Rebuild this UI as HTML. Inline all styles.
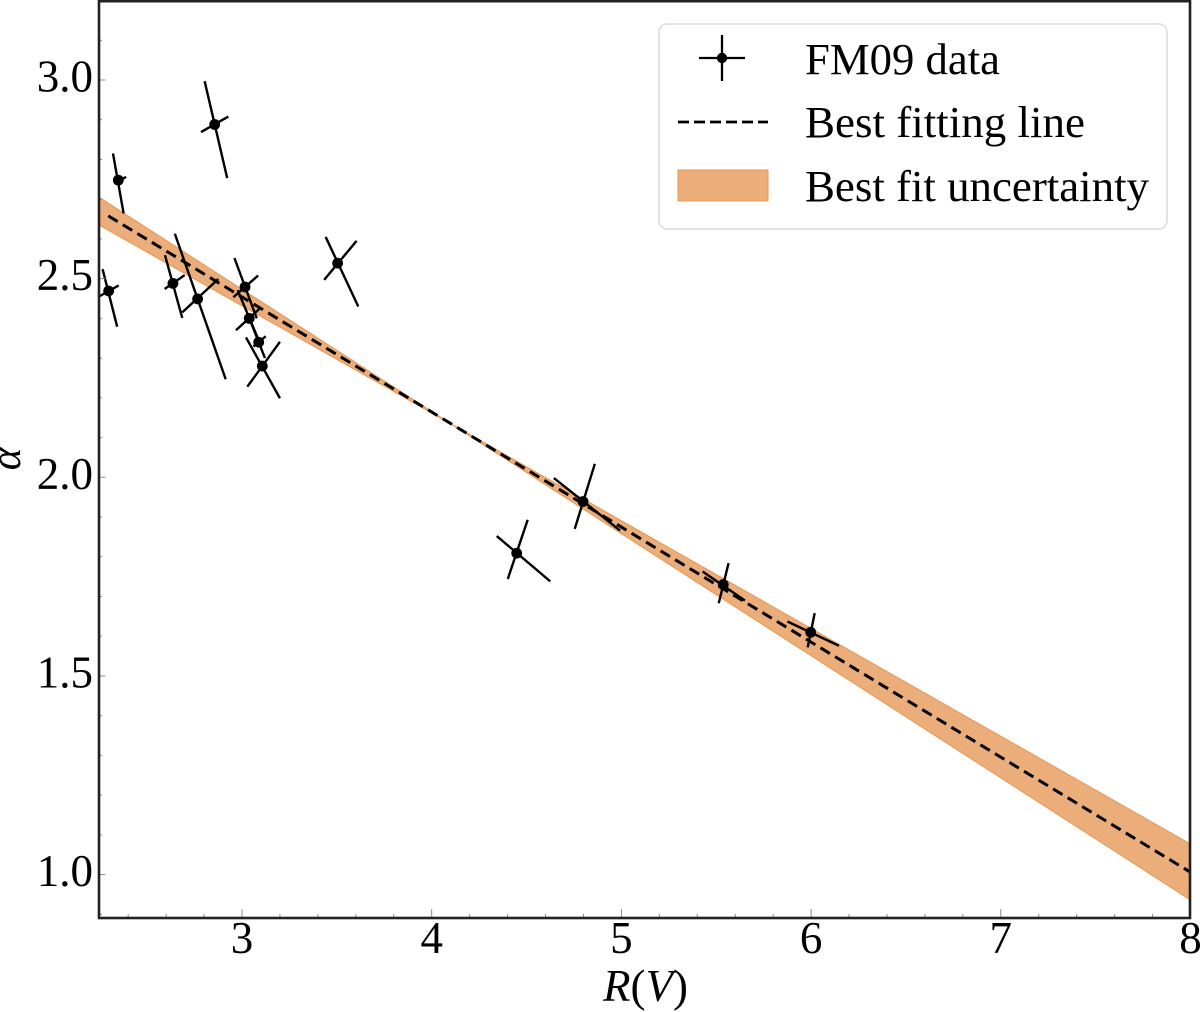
<!DOCTYPE html>
<html>
<head>
<meta charset="utf-8">
<title>R(V) vs alpha</title>
<style>
html,body{margin:0;padding:0;background:#fff;}
svg{display:block;}
text{font-family:"Liberation Serif",serif;fill:#000;}
</style>
</head>
<body>
<svg id="chart" xmlns="http://www.w3.org/2000/svg" width="1200" height="1012" viewBox="0 0 1200 1012">
<g id="band-layer"></g>
<g id="line-layer"></g>
<g id="points-layer"></g>
<g id="ticks-layer"></g>
<rect x="99" y="1.2" width="1091" height="916.8" fill="none" stroke="#222" stroke-width="2.6"/>
<text x="603" y="1001" font-size="45"><tspan font-style="italic">R</tspan>(<tspan font-style="italic">V</tspan>)</text>
<text x="20" y="459" font-size="43" font-style="italic" text-anchor="middle" transform="rotate(-90 20 459)">α</text>
<g>
<rect x="659" y="24" width="508" height="205" rx="8" fill="#fff" fill-opacity="0.9" stroke="#dcdcdc" stroke-width="1.6"/>
<line x1="699" y1="58" x2="745" y2="58" stroke="#000" stroke-width="2.3"/>
<line x1="722" y1="35" x2="722" y2="81" stroke="#000" stroke-width="2.3"/>
<circle cx="722" cy="58" r="5.2" fill="#000"/>
<text x="805" y="74" font-size="44.7" textLength="195" lengthAdjust="spacingAndGlyphs">FM09 data</text>
<line x1="678" y1="122" x2="768" y2="122" stroke="#000" stroke-width="2.8" stroke-dasharray="11 5"/>
<text x="805" y="137" font-size="44.7" textLength="280" lengthAdjust="spacingAndGlyphs">Best fitting line</text>
<rect x="678" y="170" width="90" height="31" fill="#ebae7b" stroke="#e8964f" stroke-width="1"/>
<text x="805" y="201" font-size="44.7" textLength="344" lengthAdjust="spacingAndGlyphs">Best fit uncertainty</text>
</g>
</svg>
<script>
// Data (all in axis units)
const xTickValues = [3, 4, 5, 6, 7, 8];
const xTickLabels = ["3", "4", "5", "6", "7", "8"];
const yTickValues = [1.0, 1.5, 2.0, 2.5, 3.0];
const yTickLabels = ["1.0", "1.5", "2.0", "2.5", "3.0"];

const rv    = [2.297, 2.348, 2.856, 2.636, 2.766, 3.016, 3.038, 3.088, 3.107, 3.504, 4.448, 4.798, 5.537, 5.998];
const alpha = [2.469, 2.748, 2.888, 2.488, 2.449, 2.479, 2.400, 2.340, 2.280, 2.539, 1.809, 1.939, 1.730, 1.610];

// Tilted error arms: offsets of each arm tip from its point
const yArmTopRv    = [-0.032,-0.028,-0.053,-0.042,-0.120,-0.056,-0.061,-0.050,-0.086,-0.063, 0.058, 0.062, 0.028, 0.021];
const yArmTopAlpha = [ 0.055, 0.067, 0.109, 0.071, 0.164, 0.073, 0.071, 0.061, 0.072, 0.066, 0.084, 0.095, 0.054, 0.048];
const yArmBotRv    = [ 0.045, 0.028, 0.066, 0.049, 0.148, 0.062, 0.056, 0.033, 0.093, 0.109,-0.047,-0.044,-0.024,-0.016];
const yArmBotAlpha = [-0.090,-0.084,-0.135,-0.087,-0.202,-0.079,-0.062,-0.040,-0.081,-0.109,-0.065,-0.069,-0.047,-0.038];
const xArmLeftRv     = [-0.047,-0.023,-0.072,-0.044,-0.081,-0.062,-0.070,-0.028,-0.079,-0.071,-0.105,-0.154,-0.109,-0.123];
const xArmLeftAlpha  = [-0.013,-0.008,-0.019,-0.014,-0.034,-0.026,-0.030,-0.011,-0.052,-0.042, 0.043, 0.059, 0.033, 0.027];
const xArmRightRv    = [ 0.053, 0.041, 0.072, 0.062, 0.109, 0.069, 0.056, 0.037, 0.093, 0.100, 0.177, 0.195, 0.114, 0.149];
const xArmRightAlpha = [ 0.014, 0.008, 0.020, 0.021, 0.050, 0.029, 0.025, 0.015, 0.061, 0.056,-0.071,-0.073,-0.040,-0.034];

const lineRv = [2.295, 8];
const lineAlpha = [2.658, 1.006];

const bandRv = [2.246, 4.1, 8];
const bandUpper = [2.705, 2.135, 1.077];
const bandLower = [2.635, 2.135, 0.936];

// Axis functions
const PLOT_LEFT = 99, PLOT_RIGHT = 1190, PLOT_TOP = 0, PLOT_BOTTOM = 918;
function xScale(v) { return 242 + (v - 3) * 189.7; }
function yScale(v) { return 80 + (3 - v) * 397.3; }

const NS = "http://www.w3.org/2000/svg";
function make(tag, attrs, parent) {
  const el = document.createElementNS(NS, tag);
  for (const k in attrs) el.setAttribute(k, attrs[k]);
  parent.appendChild(el);
  return el;
}

// Uncertainty band
const bandLayer = document.getElementById("band-layer");
const upperPts = bandRv.map((r, i) => xScale(r) + "," + yScale(bandUpper[i]));
const lowerPts = bandRv.map((r, i) => xScale(r) + "," + yScale(bandLower[i])).reverse();
const band = make("polygon", {points: upperPts.concat(lowerPts).join(" "), fill: "#ebae7b", stroke: "#e8964f", "stroke-width": 1}, bandLayer);



// Best-fit line
const lineLayer = document.getElementById("line-layer");
const fitLine = make("line", {x1: xScale(lineRv[0]), y1: yScale(lineAlpha[0]), x2: xScale(lineRv[1]), y2: yScale(lineAlpha[1]), stroke: "#000", "stroke-width": 3, "stroke-dasharray": "11 6"}, lineLayer);



// Data points with tilted error bars
const pointsLayer = document.getElementById("points-layer");
rv.forEach((r, i) => {
  const g = make("g", {}, pointsLayer);
  
  
  const a = alpha[i];
  const common = {stroke: "#000", "stroke-width": 2.4, "stroke-linecap": "butt"};
  const yArm = make("line", Object.assign({
    x1: xScale(r + yArmTopRv[i]), y1: yScale(a + yArmTopAlpha[i]),
    x2: xScale(r + yArmBotRv[i]), y2: yScale(a + yArmBotAlpha[i])
  }, common), g);
  
  
  const xArm = make("line", Object.assign({
    x1: Math.max(PLOT_LEFT, xScale(r + xArmLeftRv[i])), y1: yScale(a + xArmLeftAlpha[i]),
    x2: xScale(r + xArmRightRv[i]), y2: yScale(a + xArmRightAlpha[i])
  }, common), g);
  
  
  const dot = make("circle", {cx: xScale(r), cy: yScale(a), r: 5.4, fill: "#000"}, g);
  
  
});

// Ticks and labels
const ticksLayer = document.getElementById("ticks-layer");
const tickColor = "#8a8a8a";
for (let v = 2.4; v < 8.01; v += 0.2) {
  const px = xScale(v);
  if (px <= PLOT_LEFT) continue;
  const major = Math.abs(v - Math.round(v)) < 0.01;
  const t = make("line", {x1: px, x2: px, y1: PLOT_BOTTOM, y2: PLOT_BOTTOM - (major ? 9 : 4), stroke: tickColor, "stroke-width": 1}, ticksLayer);
  
  
}
for (let v = 0.9; v < 3.21; v += 0.1) {
  const py = yScale(v);
  if (py >= PLOT_BOTTOM) continue;
  const major = Math.abs(v * 2 - Math.round(v * 2)) < 0.01;
  const t = make("line", {x1: PLOT_LEFT, x2: PLOT_LEFT + (major ? 6.5 : 3), y1: py, y2: py, stroke: tickColor, "stroke-width": 1}, ticksLayer);
  
  
}
xTickValues.forEach((v, i) => {
  const t = make("text", {x: xScale(v), y: 953, "font-size": 45, "text-anchor": "middle"}, ticksLayer);
  t.textContent = xTickLabels[i];
  
  
});
yTickValues.forEach((v, i) => {
  const t = make("text", {x: 93, y: yScale(v) + 11.5, "font-size": 45, "text-anchor": "end"}, ticksLayer);
  t.textContent = yTickLabels[i];
  
  
});
</script>
</body>
</html>
